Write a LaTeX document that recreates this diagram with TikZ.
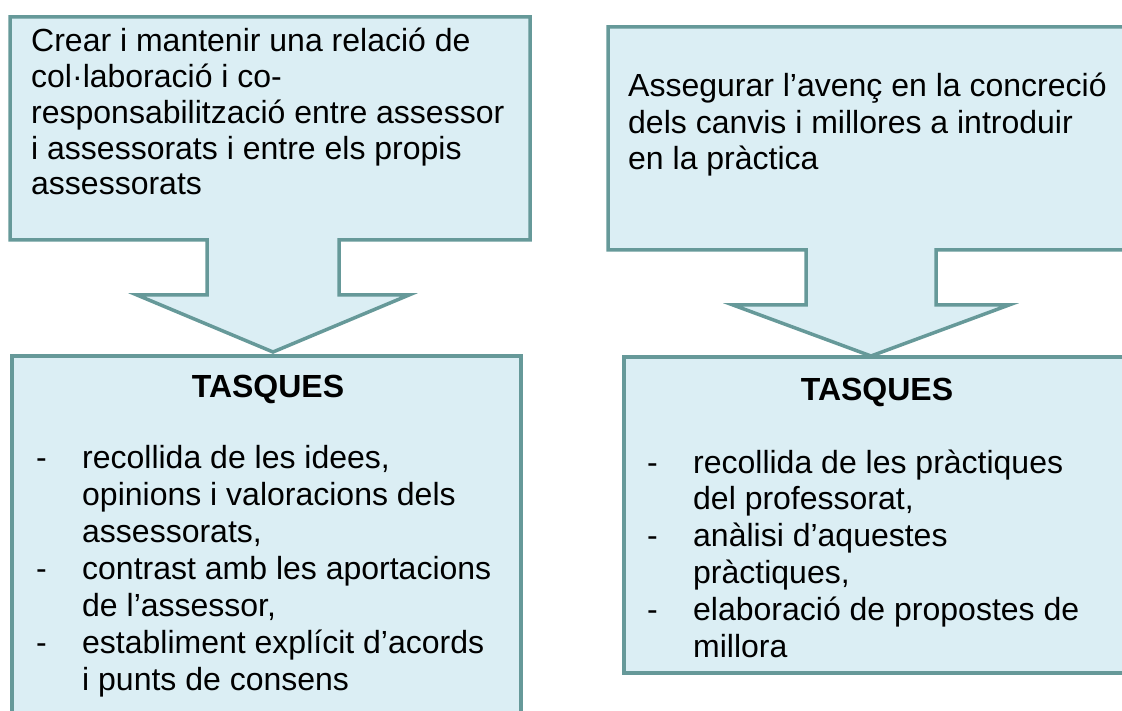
\documentclass[tikz,border=0pt]{standalone}
\usepackage{fontspec}
\setmainfont{Liberation Sans}
\definecolor{bordercol}{RGB}{102,153,153}
\definecolor{fillcol}{RGB}{219,238,244}
\tikzset{
  callout/.style={draw=bordercol, fill=fillcol, line width=3.5pt, line join=miter},
  txt/.style={anchor=base west, inner sep=0pt},
  ttl/.style={anchor=base, inner sep=0pt, font=\fontsize{32}{37}\selectfont\bfseries}
}
\newcommand{\dashitem}{\makebox[46pt][l]{-}}
\newcommand{\contitem}{\hspace*{46pt}}
\begin{document}
\begin{tikzpicture}[x=1pt,y=-1pt]
\useasboundingbox (0,0) rectangle (1122,711);
% top-left callout
\draw[callout] (10,17) -- (530,17) -- (530,240) -- (339,240) -- (339,295) -- (409,295)
  -- (273,352) -- (137,295) -- (207,295) -- (207,240) -- (10,240) -- cycle;
% top-right callout
\draw[callout] (608,27) -- (1135,27) -- (1135,250) -- (936,250) -- (936,305) -- (1009,305)
  -- (871,356) -- (733,305) -- (806,305) -- (806,250) -- (608,250) -- cycle;
% bottom boxes
\draw[callout] (12,356) rectangle (521,740);
\draw[callout] (624,357) rectangle (1135,673);

\node[txt, font=\fontsize{32}{35.7}\selectfont] (goal1) at (31,52) {\parbox[t]{520pt}{Crear i mantenir una relació de\\
col·laboració i co-\\
responsabilització entre assessor\\
i assessorats i entre els propis\\
assessorats}};

\node[txt, font=\fontsize{32}{36.5}\selectfont] (goal2) at (628,97) {\parbox[t]{520pt}{Assegurar l’avenç en la concreció\\
dels canvis i millores a introduir\\
en la pràctica}};

\node[ttl] (title1) at (268,397) {TASQUES};
\node[ttl] (title2) at (877,400) {TASQUES};

\node[txt, font=\fontsize{32}{37}\selectfont] (tasks1) at (36,468) {\parbox[t]{520pt}{\dashitem recollida de les idees,\\
\contitem opinions i valoracions dels\\
\contitem assessorats,\\
\dashitem contrast amb les aportacions\\
\contitem de l’assessor,\\
\dashitem establiment explícit d’acords\\
\contitem i punts de consens}};

\node[txt, font=\fontsize{32}{36.8}\selectfont] (tasks2) at (647,473) {\parbox[t]{520pt}{\dashitem recollida de les pràctiques\\
\contitem del professorat,\\
\dashitem anàlisi d’aquestes\\
\contitem pràctiques,\\
\dashitem elaboració de propostes de\\
\contitem millora}};
\end{tikzpicture}
\end{document}
